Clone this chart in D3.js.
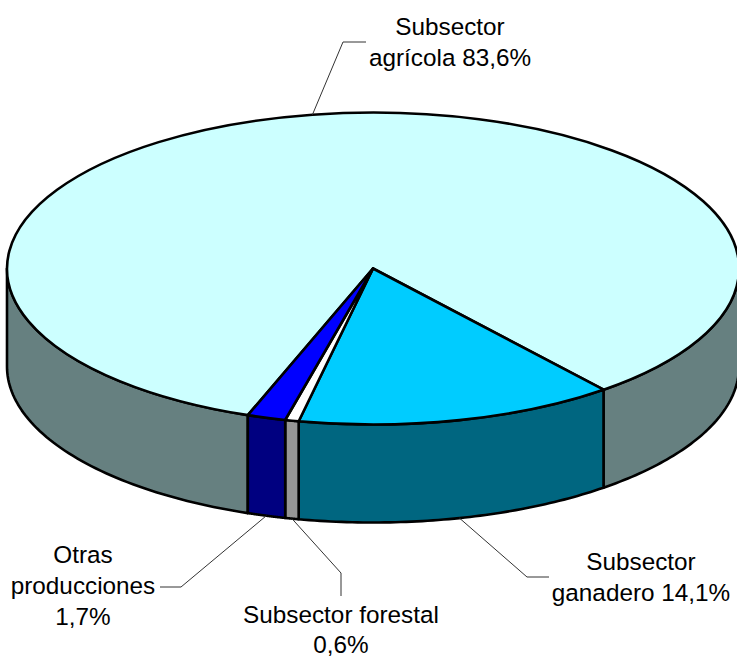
<!DOCTYPE html>
<html>
<head>
<meta charset="utf-8">
<script src="https://cdn.jsdelivr.net/npm/d3@7"></script>
<style>
  html, body { margin: 0; padding: 0; background: #fff; overflow: hidden; }
  text { font-family: "Liberation Sans", Arial, sans-serif; font-size: 24.3px; fill: #000; text-anchor: middle; }
</style>
</head>
<body>
<svg id="chart"></svg>
<script>
const sectors = ['Subsector agrícola', 'Subsector ganadero', 'Subsector forestal', 'Otras producciones'];
const shares = [83.6, 14.1, 0.6, 1.7];
const labelLines = [
  ['Subsector', 'agrícola 83,6%'],
  ['Subsector', 'ganadero 14,1%'],
  ['Subsector forestal', '0,6%'],
  ['Otras', 'producciones', '1,7%']
];
const topColors = ['#CCFFFF', '#00CCFF', '#FFFFFF', '#0000FF'];
const sideColors = ['#668080', '#006680', '#969696', '#000080'];

const width = 737, height = 658;
const cx = 373, cy = 268.5, rx = 366, ry = 156, depth = 98;
const startDeg = 200;

// label placement: elbow of the leader, end of the leader, text centre, first baseline, line step
const labelPos = [
  { elbow: [343, 42], end: [366, 42], x: 450, y: 35, step: 31 },
  { elbow: [527, 577], end: [549, 577], x: 641, y: 570, step: 31 },
  { elbow: [341, 573], end: [341, 596], x: 341, y: 623, step: 29.5 },
  { elbow: [181, 587], end: [160, 587], x: 83, y: 563, step: 31 }
];

const svg = d3.select('#chart')
  .attr('width', width)
  .attr('height', height)
  .attr('viewBox', [0, 0, width, height]);

const pie = d3.pie().sort(null)
  .startAngle(startDeg * Math.PI / 180)
  .endAngle((startDeg + 360) * Math.PI / 180);
const slices = pie(shares);

// flat pie on a unit circle, then squashed into the ellipse
const unitArc = d3.arc().innerRadius(0).outerRadius(1);
const project = (a, drop) => [cx + rx * Math.sin(a), cy - ry * Math.cos(a) + drop];

// front wall pieces, only the part of the rim between 90 and 270 deg shows
function wallPieces(s) {
  const pieces = [];
  [0, 2 * Math.PI].forEach((turn) => {
    const a0 = Math.max(s.startAngle, Math.PI / 2 + turn);
    const a1 = Math.min(s.endAngle, 3 * Math.PI / 2 + turn);
    if (a1 > a0) pieces.push([a0, a1]);
  });
  return pieces;
}

const rimLine = d3.line();
const walls = svg.append('g');
slices.forEach((s, i) => {
  wallPieces(s).forEach(([a0, a1]) => {
    const steps = d3.range(0, 61).map((k) => a0 + (a1 - a0) * k / 60);
    const pts = steps.map((a) => project(a, 0))
      .concat(steps.slice().reverse().map((a) => project(a, depth)));
    walls.append('path')
      .attr('d', rimLine(pts) + 'Z')
      .attr('fill', sideColors[i])
      .attr('stroke', '#000')
      .attr('stroke-width', 2.6)
      .attr('stroke-linejoin', 'round');
  });
});

const topFace = svg.append('g')
  .attr('transform', `translate(${cx},${cy}) scale(${rx},${ry})`);
topFace.selectAll('path')
  .data(slices)
  .join('path')
  .attr('d', unitArc)
  .attr('fill', (d, i) => topColors[i])
  .attr('stroke', '#000')
  .attr('stroke-width', 2.6)
  .attr('stroke-linejoin', 'round')
  .attr('vector-effect', 'non-scaling-stroke');

// leaders start at the middle of each slice's visible rim
const leaders = svg.append('g');
slices.forEach((s, i) => {
  const mid = (s.startAngle + s.endAngle) / 2;
  const onFront = Math.cos(mid) < 0;
  const p = labelPos[i];
  leaders.append('path')
    .attr('d', rimLine([project(mid, onFront ? depth : 0), p.elbow, p.end]))
    .attr('fill', 'none')
    .attr('stroke', '#333')
    .attr('stroke-width', 1);
});

labelLines.forEach((lines, i) => {
  lines.forEach((t, j) => {
    svg.append('text')
      .attr('x', labelPos[i].x)
      .attr('y', labelPos[i].y + j * labelPos[i].step)
      .text(t);
  });
});
</script>
</body>
</html>
